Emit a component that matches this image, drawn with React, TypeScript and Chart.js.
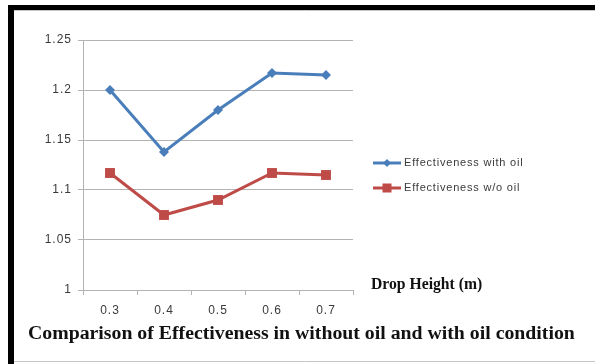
import React, { useEffect, useRef } from "react";
import { Chart, registerables } from "chart.js";

Chart.register(...registerables);

// Drop heights (m) on the x axis
const dropHeights = ["0.3", "0.4", "0.5", "0.6", "0.7"];
// Effectiveness values for each drop height
const withOil = [1.2, 1.138, 1.18, 1.217, 1.215];
const withoutOil = [1.117, 1.075, 1.09, 1.117, 1.115];
const seriesNames = ["Effectiveness with oil", "Effectiveness w/o oil"];
const yMin = 1;
const yMax = 1.25;
const yStep = 0.05;
const xAxisTitle = "Drop Height (m)";
const caption = "Comparison of Effectiveness in without oil and with oil condition";

const BLUE = "#4A7EBB";
const RED = "#BE4B48";
const GRID = "#b3b3b3";
const TEXT = "#3a3a3a";

// Page frame, axis title, legend and caption drawn around the chart
const decorations = {
  id: "decorations",
  beforeDraw(chart: any) {
    const ctx = chart.ctx as CanvasRenderingContext2D;
    ctx.save();
    ctx.fillStyle = "#ffffff";
    ctx.fillRect(0, 0, chart.width, chart.height);
    ctx.restore();
    (ctx as any).letterSpacing = "1px";
  },
  afterDraw(chart: any) {
    const ctx = chart.ctx as CanvasRenderingContext2D;
    ctx.save();
    (ctx as any).letterSpacing = "0px";
    // frame
    ctx.fillStyle = "#000000";
    ctx.fillRect(8, 5, 587, 5);
    ctx.fillRect(8, 5, 6, 359);
    ctx.strokeStyle = "#c6c6c6";
    ctx.lineWidth = 1;
    ctx.beginPath();
    ctx.moveTo(14, 10.5);
    ctx.lineTo(595, 10.5);
    ctx.moveTo(14, 361.5);
    ctx.lineTo(595, 361.5);
    ctx.stroke();

    // legend
    chart.data.datasets.forEach((ds: any, i: number) => {
      const y = 163 + i * 25;
      ctx.strokeStyle = ds.borderColor;
      ctx.lineWidth = 3;
      ctx.beginPath();
      ctx.moveTo(373, y);
      ctx.lineTo(401, y);
      ctx.stroke();
      ctx.fillStyle = ds.backgroundColor;
      const cx = 387;
      if (ds.pointStyle === "rectRot") {
        ctx.beginPath();
        ctx.moveTo(cx - 4, y);
        ctx.lineTo(cx, y - 4);
        ctx.lineTo(cx + 4, y);
        ctx.lineTo(cx, y + 4);
        ctx.closePath();
        ctx.fill();
      } else {
        ctx.fillRect(cx - 4.5, y - 4.5, 9, 9);
      }
      ctx.fillStyle = TEXT;
      (ctx as any).letterSpacing = "0.8px";
      ctx.font = "11px 'Liberation Sans', Arial, sans-serif";
      ctx.textAlign = "left";
      ctx.textBaseline = "middle";
      ctx.fillText(ds.label, 404, y);
    });

    (ctx as any).letterSpacing = "0px";
    ctx.fillStyle = "#111111";
    ctx.textAlign = "left";
    ctx.textBaseline = "middle";
    ctx.font = "bold 15.7px 'Liberation Serif', 'Times New Roman', serif";
    ctx.fillText(xAxisTitle, 371, 285);
    ctx.font = "bold 19.8px 'Liberation Serif', 'Times New Roman', serif";
    ctx.fillText(caption, 28, 334);
    ctx.restore();
  },
};

export default function App() {
  const canvasRef = useRef<HTMLCanvasElement | null>(null);

  useEffect(() => {
    if (!canvasRef.current) return;
    const chart = new Chart(canvasRef.current, {
      type: "line",
      data: {
        labels: dropHeights,
        datasets: [
          {
            label: seriesNames[0],
            data: withOil,
            borderColor: BLUE,
            backgroundColor: BLUE,
            borderWidth: 3,
            pointStyle: "rectRot",
            pointRadius: 5,
            pointHoverRadius: 5,
            pointBorderWidth: 0,
            tension: 0,
          },
          {
            label: seriesNames[1],
            data: withoutOil,
            borderColor: RED,
            backgroundColor: RED,
            borderWidth: 3,
            pointStyle: "rect",
            pointRadius: 7,
            pointHoverRadius: 7,
            pointBorderWidth: 0,
            tension: 0,
          },
        ],
      },
      options: {
        responsive: false,
        animation: false,
        devicePixelRatio: 1,
        events: [],
        layout: { padding: { top: 40, left: 0, right: 242, bottom: 34 } },
        plugins: {
          legend: { display: false },
          tooltip: { enabled: false },
          title: { display: false },
        },
        scales: {
          x: {
            type: "category",
            offset: true,
            afterFit: (s: any) => {
              s.height = 40;
            },
            grid: {
              display: true,
              drawOnChartArea: false,
              drawTicks: true,
              tickLength: 5,
              color: GRID,
              offset: true,
            },
            border: { display: true, color: GRID, width: 1 },
            ticks: {
              color: TEXT,
              padding: 8,
              maxRotation: 0,
              font: { family: "'Liberation Sans', Arial, sans-serif", size: 12 },
            },
          },
          y: {
            min: yMin,
            max: yMax,
            afterFit: (s: any) => {
              s.width = 83;
            },
            grid: {
              color: GRID,
              drawTicks: true,
              tickLength: 5,
            },
            border: { display: true, color: GRID, width: 1 },
            ticks: {
              stepSize: yStep,
              color: TEXT,
              padding: 6,
              font: { family: "'Liberation Sans', Arial, sans-serif", size: 12 },
              callback: (v: any) => String(Number(Number(v).toFixed(2))),
            },
          },
        },
      },
      plugins: [decorations],
    });
    return () => chart.destroy();
  }, []);

  return (
    <div
      style={{
        position: "fixed",
        left: 0,
        top: 0,
        width: 595,
        height: 364,
        background: "#ffffff",
      }}
    >
      <canvas ref={canvasRef} width={595} height={364} style={{ display: "block" }} />
    </div>
  );
}
